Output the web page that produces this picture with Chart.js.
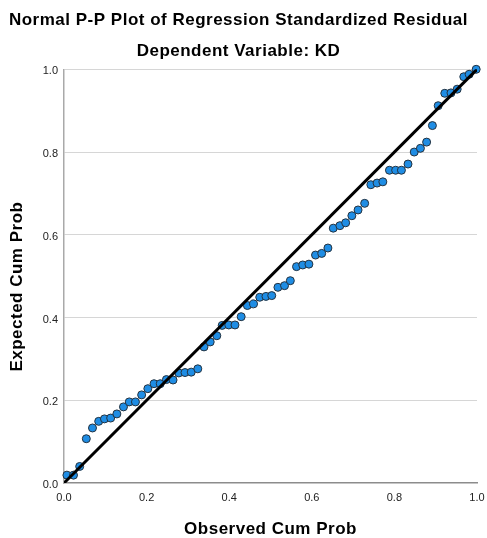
<!DOCTYPE html>
<html>
<head>
<meta charset="utf-8">
<script src="https://cdn.jsdelivr.net/npm/chart.js@4/dist/chart.umd.min.js"></script>
<style>
  html, body { margin: 0; padding: 0; background: #fff; }
  canvas { display: block; }
</style>
</head>
<body>
<canvas id="pp" width="487" height="538"></canvas>
<script>
// Probabilidades (67 residuos)
const observado = [
  0.007, 0.023, 0.038, 0.054, 0.069, 0.084, 0.098, 0.113, 0.128, 0.144,
  0.158, 0.173, 0.188, 0.203, 0.218, 0.233, 0.248, 0.264, 0.278, 0.293,
  0.308, 0.324, 0.339, 0.354, 0.370, 0.383, 0.399, 0.414, 0.429, 0.444,
  0.459, 0.474, 0.489, 0.503, 0.518, 0.534, 0.548, 0.563, 0.578, 0.593,
  0.609, 0.624, 0.639, 0.652, 0.668, 0.682, 0.697, 0.712, 0.728, 0.743,
  0.758, 0.772, 0.788, 0.803, 0.817, 0.833, 0.848, 0.863, 0.878, 0.892,
  0.906, 0.922, 0.937, 0.952, 0.968, 0.981, 0.998
];
const esperado = [
  0.019, 0.019, 0.040, 0.107, 0.133, 0.149, 0.155, 0.157, 0.167, 0.184,
  0.196, 0.196, 0.213, 0.228, 0.240, 0.240, 0.250, 0.249, 0.266, 0.267,
  0.268, 0.276, 0.329, 0.341, 0.356, 0.381, 0.382, 0.382, 0.402, 0.429,
  0.433, 0.449, 0.451, 0.453, 0.473, 0.477, 0.489, 0.523, 0.527, 0.529,
  0.551, 0.555, 0.568, 0.616, 0.622, 0.629, 0.646, 0.660, 0.676, 0.721,
  0.725, 0.728, 0.756, 0.756, 0.756, 0.771, 0.800, 0.809, 0.824, 0.864,
  0.912, 0.942, 0.943, 0.952, 0.982, 0.988, 1.000
];
const diagonal = [0, 1];
const ejeMin = 0;
const ejeMax = 1;
const paso = 0.2;

const FUENTE = "'Liberation Sans', Arial, sans-serif";
const AZUL = '#1f8de4';

const puntos = observado.map((x, i) => ({ x, y: esperado[i] }));
const linea = diagonal.map((v) => ({ x: v, y: v }));

// Los títulos del original van algo más espaciados que Arial normal
const espaciado = {
  id: 'espaciado',
  afterLayout(chart) {
    chart.boxes.forEach((b) => {
      if (b._espaciado) return;
      const esEscala = b.axis !== undefined;
      if (!esEscala && !(b.options && 'text' in b.options)) return;
      const metodo = esEscala ? 'drawTitle' : 'draw';
      const original = b[metodo].bind(b);
      b[metodo] = (...args) => {
        const ctx = chart.ctx;
        ctx.save();
        ctx.letterSpacing = '0.5px';
        original(...args);
        ctx.restore();
      };
      b._espaciado = true;
    });
  },
};

new Chart(document.getElementById('pp'), {
  type: 'scatter',
  data: {
    datasets: [
      {
        type: 'line',
        data: linea,
        borderColor: '#000',
        borderWidth: 3,
        pointRadius: 0,
        fill: false,
      },
      {
        data: puntos,
        backgroundColor: AZUL,
        borderColor: '#24323f',
        borderWidth: 1,
        pointRadius: 4,
        clip: false,
      },
    ],
  },
  plugins: [espaciado],
  options: {
    responsive: false,
    animation: false,
    events: [],
    layout: { padding: { left: 0, right: 10, top: 0, bottom: 0 } },
    plugins: {
      legend: { display: false },
      tooltip: { enabled: false },
      title: {
        display: true,
        text: 'Normal P-P Plot of Regression Standardized Residual',
        color: '#000',
        font: { family: FUENTE, size: 17, weight: 'bold' },
        padding: { top: 10, bottom: 11 },
      },
      subtitle: {
        display: true,
        text: 'Dependent Variable: KD',
        color: '#000',
        font: { family: FUENTE, size: 17, weight: 'bold' },
        padding: { top: 0, bottom: 7.5 },
      },
    },
    scales: {
      x: {
        type: 'linear',
        min: ejeMin,
        max: ejeMax,
        afterFit: (s) => { s.height = 55; },
        ticks: {
          stepSize: paso,
          padding: 0,
          color: '#222',
          font: { family: FUENTE, size: 11 },
          callback: (v) => v.toFixed(1),
        },
        grid: { color: 'rgba(0,0,0,0)', tickColor: 'rgba(0,0,0,0)', drawTicks: true, tickLength: 8 },
        border: { display: true, color: '#8c8c8c', width: 1.5 },
        title: {
          display: true,
          text: 'Observed Cum Prob',
          color: '#000',
          font: { family: FUENTE, size: 17, weight: 'bold', lineHeight: 1 },
          padding: { top: 0, bottom: 0 },
        },
      },
      y: {
        type: 'linear',
        min: ejeMin,
        max: ejeMax,
        afterFit: (s) => { s.width = 64; },
        ticks: {
          stepSize: paso,
          padding: 6,
          labelOffset: 2,
          color: '#222',
          font: { family: FUENTE, size: 11 },
          callback: (v) => v.toFixed(1),
        },
        grid: {
          color: (ctx) => (ctx.tick && ctx.tick.value === 0 ? 'rgba(0,0,0,0)' : '#d6d6d6'),
          drawTicks: false,
        },
        border: { display: true, color: '#a9a9a9', width: 1.5 },
        title: {
          display: true,
          text: 'Expected Cum Prob    ',
          color: '#000',
          font: { family: FUENTE, size: 17, weight: 'bold' },
          padding: { top: 7, bottom: 0 },
        },
      },
    },
  },
});
</script>
</body>
</html>
